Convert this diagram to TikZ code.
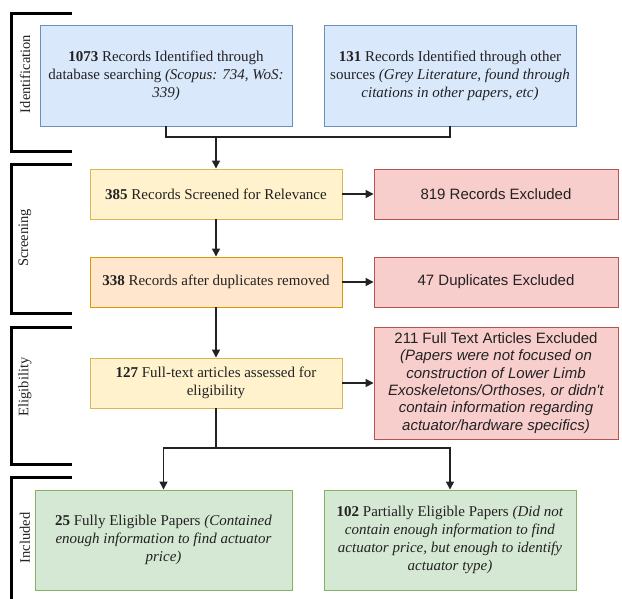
\documentclass[tikz,border=0pt]{standalone}
\usepackage{xcolor}
\usepackage{fontspec}
\setmainfont{Liberation Serif}
\newfontfamily\arialfont{Liberation Sans}
\usepackage{tikz}
\usetikzlibrary{arrows.meta, positioning}

\definecolor{blueFill}{HTML}{DAE8FC}
\definecolor{blueLine}{HTML}{6C8EBF}
\definecolor{yellowFill}{HTML}{FFF2CC}
\definecolor{yellowLine}{HTML}{D6B656}
\definecolor{orangeFill}{HTML}{FFE6CC}
\definecolor{orangeLine}{HTML}{D79B00}
\definecolor{redFill}{HTML}{F8CECC}
\definecolor{redLine}{HTML}{B85450}
\definecolor{greenFill}{HTML}{D5E8D4}
\definecolor{greenLine}{HTML}{82B366}
\definecolor{inkGray}{HTML}{222222}

\begin{document}
\begin{tikzpicture}[x=1pt, y=-1pt,
  box/.style={draw, line width=0.9pt, align=center, inner sep=2pt, text=inkGray,
    font=\fontsize{15}{18}\selectfont},
  idbox/.style={box, fill=blueFill, draw=blueLine, minimum width=252pt, minimum height=101pt},
  scbox/.style={box, fill=yellowFill, draw=yellowLine, minimum width=252pt, minimum height=50pt},
  dupbox/.style={box, fill=orangeFill, draw=orangeLine, minimum width=252pt, minimum height=50pt},
  exbox/.style={box, fill=redFill, draw=redLine, minimum width=244pt, minimum height=50pt,
    font=\arialfont\fontsize{15}{17.4}\selectfont},
  incbox/.style={box, fill=greenFill, draw=greenLine, minimum height=100pt},
  flow/.style={line width=1.3pt, draw=inkGray},
  arr/.style={flow, -{Triangle[length=8pt, width=8pt]}},
  bracket/.style={line width=3pt, draw=black},
  stage/.style={rotate=90, text=inkGray, font=\fontsize{14.5}{18}\selectfont}]
\useasboundingbox (0,0) rectangle (622,598);
% \draw[help lines, red] (0,0) grid[step=50pt] (622,598);
\draw[bracket](72,13)--(11,13)--(11,151)--(72,151);
\draw[bracket](72,164)--(11,164)--(11,313)--(72,313);
\draw[bracket](72,327)--(11,327)--(11,464)--(72,464);
\draw[bracket](72,477)--(11,477)--(11,600);
\node[stage] (lblId) at (25,74) {Identification};
\node[stage] (lblSc) at (25,238) {Screening};
\node[stage] (lblEl) at (25,387) {Eligibility};
\node[stage] (lblIn) at (25,538) {Included};

\node[idbox] (db) at (166,75.5) {\textbf{1073} Records Identified through\\database searching \textit{(Scopus: 734, WoS:}\\\textit{339)}};
\node[idbox] (other) at (450,75.5) {\textbf{131} Records Identified through other\\sources \textit{(Grey Literature, found through}\\\textit{citations in other papers, etc)}};
\node[scbox] (screened) at (216,194) {\textbf{385} Records Screened for Relevance};
\node[dupbox] (nodup) at (216,282) {\textbf{338} Records after duplicates removed};
\node[scbox] (fulltext) at (216,383) {\textbf{127} Full-text articles assessed for\\eligibility};
\node[exbox] (exRel) at (496,194) {819 Records Excluded};
\node[exbox] (exDup) at (496,282) {47 Duplicates Excluded};
\node[exbox, minimum height=112pt] (exFull) at (496,383) {211 Full Text Articles Excluded\\\textit{(Papers were not focused on}\\\textit{construction of Lower Limb}\\\textit{Exoskeletons/Orthoses, or didn't}\\\textit{contain information regarding}\\\textit{actuator/hardware specifics)}};
\node[incbox, minimum width=257pt] (fully) at (163.5,540) {\textbf{25} Fully Eligible Papers \textit{(Contained}\\\textit{enough information to find actuator}\\\textit{price)}};
\node[incbox, minimum width=252pt] (partly) at (450,540) {\textbf{102} Partially Eligible Papers \textit{(Did not}\\\textit{contain enough information to find}\\\textit{actuator price, but enough to identify}\\\textit{actuator type)}};

\coordinate (merge) at (216,137);
\coordinate (split) at (216,448);
\draw[flow](db.south)|-(merge)-|(other.south);
\draw[arr](merge)--(screened.north);
\draw[arr](screened)--(nodup);
\draw[arr](nodup)--(fulltext);
\draw[arr](screened)--(exRel);
\draw[arr](nodup)--(exDup);
\draw[arr](fulltext)--(exFull);
\draw[flow](fulltext.south)--(split);
\draw[arr](split)-|(fully.north);
\draw[arr](split)-|(partly.north);
\end{tikzpicture}
\end{document}
